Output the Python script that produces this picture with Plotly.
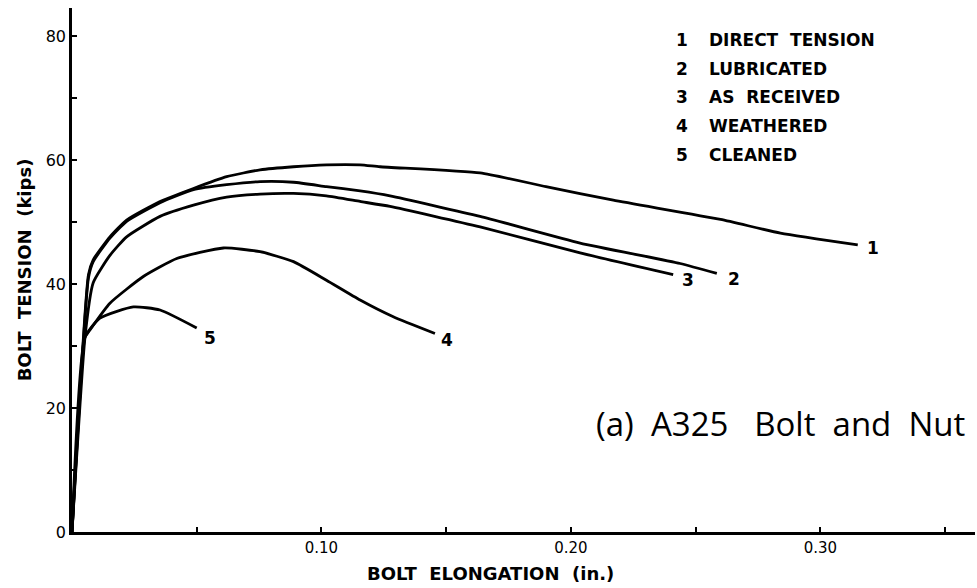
import plotly.graph_objects as go

# Data (x: bolt elongation in inches, y: bolt tension in kips)
c1_x = [0.0, 0.0066, 0.0085, 0.0152, 0.0219, 0.0353, 0.0487, 0.062, 0.0754, 0.0888, 0.102, 0.1155, 0.1235, 0.1636, 0.190, 0.217, 0.260, 0.284, 0.315]
c1_y = [0.0, 41.5, 43.9, 47.6, 50.3, 53.3, 55.4, 57.3, 58.4, 58.9, 59.2, 59.2, 58.9, 57.9, 55.7, 53.5, 50.4, 48.2, 46.3]

c2_x = [0.0, 0.0066, 0.0085, 0.0152, 0.0219, 0.0353, 0.0487, 0.062, 0.0754, 0.0888, 0.102, 0.1155, 0.1275, 0.1636, 0.2037, 0.2438, 0.2585]
c2_y = [0.0, 41.0, 43.6, 47.4, 50.1, 53.1, 55.2, 56.0, 56.5, 56.4, 55.7, 55.0, 54.2, 50.9, 46.6, 43.3, 41.7]

c3_x = [0.0, 0.0052, 0.0085, 0.0152, 0.0219, 0.0353, 0.0487, 0.062, 0.0754, 0.0888, 0.102, 0.1155, 0.1275, 0.1636, 0.2037, 0.241]
c3_y = [0.0, 31.4, 40.2, 44.6, 47.6, 50.9, 52.7, 54.0, 54.5, 54.6, 54.2, 53.3, 52.5, 49.2, 45.0, 41.5]

c4_x = [0.0, 0.0052, 0.0072, 0.0152, 0.0286, 0.042, 0.0607, 0.0754, 0.0888, 0.102, 0.1155, 0.1288, 0.1455]
c4_y = [0.0, 31.4, 32.6, 36.9, 41.2, 44.1, 45.8, 45.2, 43.6, 40.6, 37.4, 34.7, 32.0]

c5_x = [0.0, 0.0052, 0.0112, 0.0246, 0.0353, 0.050]
c5_y = [0.0, 31.4, 34.5, 36.3, 35.8, 32.9]

series_names = ["DIRECT TENSION", "LUBRICATED", "AS RECEIVED", "WEATHERED", "CLEANED"]
series_ids = ["1", "2", "3", "4", "5"]
end_label_x = [0.321, 0.2655, 0.247, 0.1505, 0.0555]
end_label_y = [45.8, 40.8, 40.6, 31.0, 31.3]

x_tick_vals = [0.05, 0.10, 0.15, 0.20, 0.25, 0.30, 0.35]
x_tick_text = ["", "0.10", "", "0.20", "", "0.30", ""]
y_tick_vals = [0, 10, 20, 30, 40, 50, 60, 70, 80]
y_tick_text = ["0", "", "20", "", "40", "", "60", "", "80"]

FONT = "DejaVu Sans"

fig = go.Figure()
all_x = [c1_x, c2_x, c3_x, c4_x, c5_x]
all_y = [c1_y, c2_y, c3_y, c4_y, c5_y]
for xs, ys, nm in zip(all_x, all_y, series_names):
    fig.add_trace(go.Scatter(x=xs, y=ys, mode="lines", name=nm,
                             line=dict(color="black", width=2.8, shape="spline", smoothing=0.5),
                             showlegend=False, hoverinfo="skip"))

for sid, lx, ly in zip(series_ids, end_label_x, end_label_y):
    fig.add_annotation(x=lx, y=ly, text="<b>" + sid + "</b>", showarrow=False,
                       xanchor="center", yanchor="middle",
                       font=dict(family=FONT, size=17, color="black"))

# Key in top right
for i, (sid, nm) in enumerate(zip(series_ids, series_names)):
    yp = 40 + i * 28.7
    fig.add_annotation(xref="paper", yref="paper", x=(682 - 72) / 903, y=1 - (yp - 8) / 524,
                       text="<b>" + sid + "</b>", showarrow=False, xanchor="center", yanchor="middle",
                       font=dict(family=FONT, size=17, color="black"))
    fig.add_annotation(xref="paper", yref="paper", x=(707 - 72) / 903, y=1 - (yp - 8) / 524,
                       text="<b>" + nm.replace(" ", "  ") + "</b>", showarrow=False,
                       xanchor="left", yanchor="middle",
                       font=dict(family=FONT, size=17, color="black"))

fig.add_annotation(xref="paper", yref="paper", x=(594 - 72) / 903, y=1 - (423 - 8) / 524,
                   text="(a)  A325   Bolt  and  Nut", showarrow=False, xanchor="left", yanchor="middle",
                   font=dict(family="Open Sans", size=33, color="black"))

# x-axis title (slightly left of centre, as in the original)
fig.add_annotation(xref="paper", yref="paper", x=(490 - 72) / 903, y=-(573 - 532) / 524,
                   text="<b>BOLT  ELONGATION  (in.)</b>", showarrow=False,
                   xanchor="center", yanchor="middle",
                   font=dict(family=FONT, size=18, color="black"))

fig.update_layout(
    width=977, height=588,
    margin=dict(l=72, r=2, t=8, b=56),
    paper_bgcolor="white", plot_bgcolor="white",
    font=dict(family=FONT, color="black"),
    xaxis=dict(range=[0, 0.362], tickvals=x_tick_vals, ticktext=x_tick_text,
               ticks="inside", ticklen=5, tickwidth=1.5, tickcolor="black",
               showline=True, linecolor="black", linewidth=2.5, showgrid=False, zeroline=False,
               tickfont=dict(family=FONT, size=15)),
    yaxis=dict(range=[0, 84.5], tickvals=y_tick_vals, ticktext=y_tick_text,
               ticks="inside", ticklen=5, tickwidth=1.5, tickcolor="black",
               showline=True, linecolor="black", linewidth=2.5, showgrid=False, zeroline=False,
               tickfont=dict(family=FONT, size=16),
               title=dict(text="<b>BOLT  TENSION  (kips)</b>", font=dict(family=FONT, size=18), standoff=10)),
)

fig.write_html("out.html")
